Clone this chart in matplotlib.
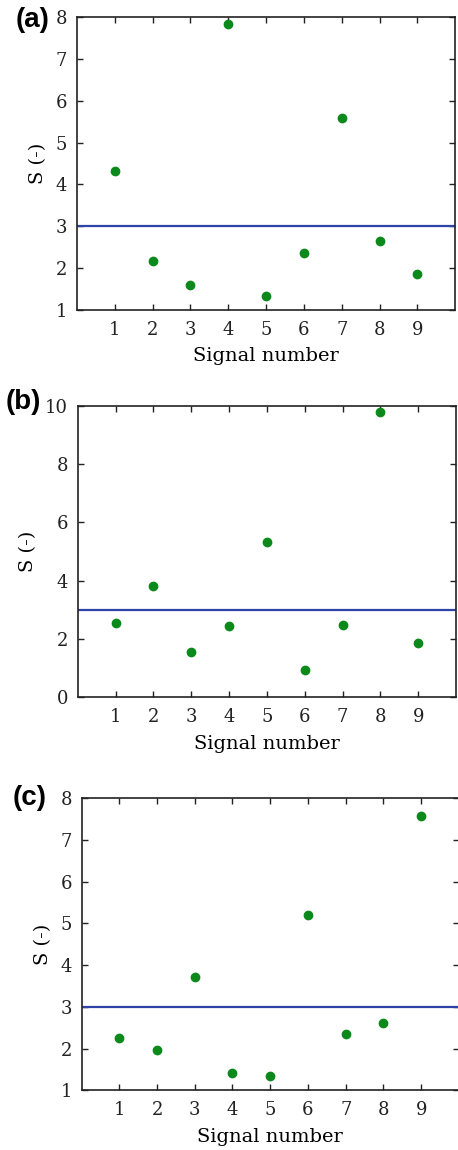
import matplotlib
matplotlib.use("Agg")
import matplotlib.pyplot as plt

# 信号编号与三组 S 值
signal_no = [1, 2, 3, 4, 5, 6, 7, 8, 9]
s_a = [4.32, 2.16, 1.60, 7.84, 1.33, 2.37, 5.59, 2.64, 1.87]
s_b = [2.53, 3.82, 1.54, 2.43, 5.34, 0.95, 2.47, 9.78, 1.85]
s_c = [2.25, 1.97, 3.72, 1.42, 1.34, 5.20, 2.35, 2.60, 7.58]
threshold = 3
panel_names = ['(a)', '(b)', '(c)']
y_limits = [(1, 8), (0, 10), (1, 8)]
y_ticks = [[1, 2, 3, 4, 5, 6, 7, 8], [0, 2, 4, 6, 8, 10], [1, 2, 3, 4, 5, 6, 7, 8]]

plt.rcParams['font.family'] = ['DejaVu Serif']

W, H = 458, 1150
fig = plt.figure(figsize=(W / 100, H / 100), dpi=100)
# 每个子图的位置 [left, bottom, width, height]
positions = [
    [0.168, 0.7304, 0.826, 0.2548],
    [0.1697, 0.3937, 0.826, 0.2535],
    [0.178, 0.0519, 0.824, 0.2542],
]
# 面板标签位置（像素，左上角为原点）
label_px = [(16, 20), (6, 402), (13, 798)]

for pos, vals, name, ylim, yt, lp in zip(positions, [s_a, s_b, s_c], panel_names,
                                          y_limits, y_ticks, label_px):
    ax = fig.add_axes(pos)
    ax.axhline(threshold, color='#2e44a6', linewidth=1.6, zorder=2)
    ax.plot(signal_no, vals, 'o', color='#0b8a1b', markersize=6, zorder=3)
    ax.set_xlim(0, 10)
    ax.set_ylim(*ylim)
    ax.set_xticks(signal_no)
    ax.set_yticks(yt)
    ax.tick_params(direction='in', top=True, right=True, length=4, width=1,
                   labelsize=13, colors='#222222', pad=7)
    ax.tick_params(axis='x', pad=8)
    for sp in ax.spines.values():
        sp.set_linewidth(1.2)
        sp.set_color('#222222')
    ax.set_xlabel('Signal number', fontsize=14, labelpad=6)
    ax.set_ylabel('S (-)', fontsize=14, labelpad=6)
    fig.text(lp[0] / W, 1 - lp[1] / H, name, fontsize=20, fontweight='bold',
             family=['Liberation Sans', 'DejaVu Sans'], ha='left', va='center')

fig.savefig('out.png', dpi=100)
